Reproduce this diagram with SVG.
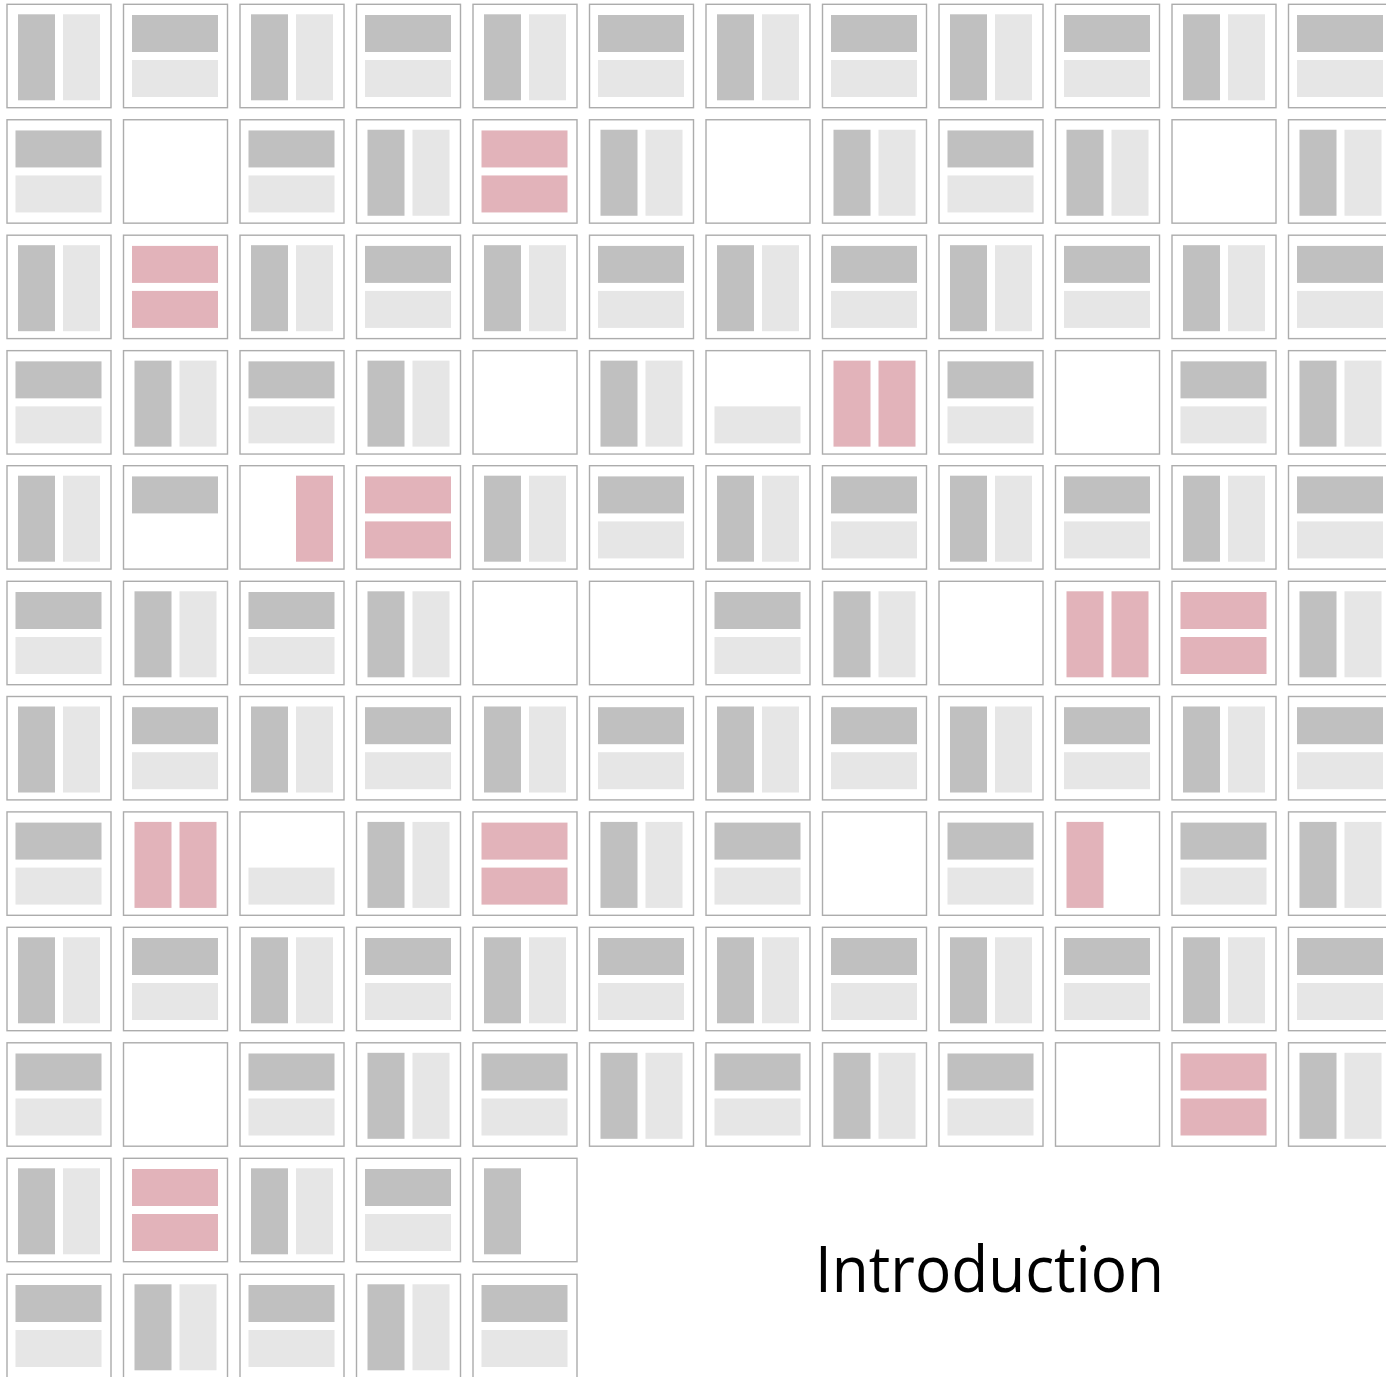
<svg xmlns="http://www.w3.org/2000/svg" xmlns:xlink="http://www.w3.org/1999/xlink" width="1386" height="1377" viewBox="0 0 1386 1377">
<style>
.f{fill:#fff;stroke:#acacac;stroke-width:1.4}
.d{fill:#c0c0c0}
.l{fill:#e6e6e6}
.p{fill:#e2b3ba}
.t{font-family:"Segoe UI","Open Sans","Noto Sans",sans-serif;font-size:64px;fill:#000}
</style>
<defs>
<rect id="fr" class="f" x="0" y="0" width="104" height="103.4"/>
<g id="V"><rect class="d" x="11" y="10" width="37" height="86"/><rect class="l" x="56" y="10" width="37" height="86"/></g>
<g id="H"><rect class="d" x="8.5" y="10.7" width="86" height="37"/><rect class="l" x="8.5" y="55.7" width="86" height="37"/></g>
<g id="PV"><rect class="p" x="11" y="10" width="37" height="86"/><rect class="p" x="56" y="10" width="37" height="86"/></g>
<g id="PH"><rect class="p" x="8.5" y="10.7" width="86" height="37"/><rect class="p" x="8.5" y="55.7" width="86" height="37"/></g>
<rect id="Hd" class="d" x="8.5" y="10.7" width="86" height="37"/>
<rect id="Hl" class="l" x="8.5" y="55.7" width="86" height="37"/>
<rect id="Vd" class="d" x="11" y="10" width="37" height="86"/>
<rect id="Vpl" class="p" x="56" y="10" width="37" height="86"/>
<rect id="Vpd" class="p" x="11" y="10" width="37" height="86"/>
</defs>
<rect width="1386" height="1377" fill="#fff"/>
<g id="row0">
<g id="t0-0" transform="translate(7,4.3)"><use href="#fr"/><use href="#V"/></g>
<g id="t0-1" transform="translate(123.5,4.3)"><use href="#fr"/><use href="#H"/></g>
<g id="t0-2" transform="translate(240,4.3)"><use href="#fr"/><use href="#V"/></g>
<g id="t0-3" transform="translate(356.5,4.3)"><use href="#fr"/><use href="#H"/></g>
<g id="t0-4" transform="translate(473,4.3)"><use href="#fr"/><use href="#V"/></g>
<g id="t0-5" transform="translate(589.5,4.3)"><use href="#fr"/><use href="#H"/></g>
<g id="t0-6" transform="translate(706,4.3)"><use href="#fr"/><use href="#V"/></g>
<g id="t0-7" transform="translate(822.5,4.3)"><use href="#fr"/><use href="#H"/></g>
<g id="t0-8" transform="translate(939,4.3)"><use href="#fr"/><use href="#V"/></g>
<g id="t0-9" transform="translate(1055.5,4.3)"><use href="#fr"/><use href="#H"/></g>
<g id="t0-10" transform="translate(1172,4.3)"><use href="#fr"/><use href="#V"/></g>
<g id="t0-11" transform="translate(1288.5,4.3)"><use href="#fr"/><use href="#H"/></g>
</g>
<g id="row1">
<g id="t1-0" transform="translate(7,119.75)"><use href="#fr"/><use href="#H"/></g>
<g id="t1-1" transform="translate(123.5,119.75)"><use href="#fr"/></g>
<g id="t1-2" transform="translate(240,119.75)"><use href="#fr"/><use href="#H"/></g>
<g id="t1-3" transform="translate(356.5,119.75)"><use href="#fr"/><use href="#V"/></g>
<g id="t1-4" transform="translate(473,119.75)"><use href="#fr"/><use href="#PH"/></g>
<g id="t1-5" transform="translate(589.5,119.75)"><use href="#fr"/><use href="#V"/></g>
<g id="t1-6" transform="translate(706,119.75)"><use href="#fr"/></g>
<g id="t1-7" transform="translate(822.5,119.75)"><use href="#fr"/><use href="#V"/></g>
<g id="t1-8" transform="translate(939,119.75)"><use href="#fr"/><use href="#H"/></g>
<g id="t1-9" transform="translate(1055.5,119.75)"><use href="#fr"/><use href="#V"/></g>
<g id="t1-10" transform="translate(1172,119.75)"><use href="#fr"/></g>
<g id="t1-11" transform="translate(1288.5,119.75)"><use href="#fr"/><use href="#V"/></g>
</g>
<g id="row2">
<g id="t2-0" transform="translate(7,235.2)"><use href="#fr"/><use href="#V"/></g>
<g id="t2-1" transform="translate(123.5,235.2)"><use href="#fr"/><use href="#PH"/></g>
<g id="t2-2" transform="translate(240,235.2)"><use href="#fr"/><use href="#V"/></g>
<g id="t2-3" transform="translate(356.5,235.2)"><use href="#fr"/><use href="#H"/></g>
<g id="t2-4" transform="translate(473,235.2)"><use href="#fr"/><use href="#V"/></g>
<g id="t2-5" transform="translate(589.5,235.2)"><use href="#fr"/><use href="#H"/></g>
<g id="t2-6" transform="translate(706,235.2)"><use href="#fr"/><use href="#V"/></g>
<g id="t2-7" transform="translate(822.5,235.2)"><use href="#fr"/><use href="#H"/></g>
<g id="t2-8" transform="translate(939,235.2)"><use href="#fr"/><use href="#V"/></g>
<g id="t2-9" transform="translate(1055.5,235.2)"><use href="#fr"/><use href="#H"/></g>
<g id="t2-10" transform="translate(1172,235.2)"><use href="#fr"/><use href="#V"/></g>
<g id="t2-11" transform="translate(1288.5,235.2)"><use href="#fr"/><use href="#H"/></g>
</g>
<g id="row3">
<g id="t3-0" transform="translate(7,350.65)"><use href="#fr"/><use href="#H"/></g>
<g id="t3-1" transform="translate(123.5,350.65)"><use href="#fr"/><use href="#V"/></g>
<g id="t3-2" transform="translate(240,350.65)"><use href="#fr"/><use href="#H"/></g>
<g id="t3-3" transform="translate(356.5,350.65)"><use href="#fr"/><use href="#V"/></g>
<g id="t3-4" transform="translate(473,350.65)"><use href="#fr"/></g>
<g id="t3-5" transform="translate(589.5,350.65)"><use href="#fr"/><use href="#V"/></g>
<g id="t3-6" transform="translate(706,350.65)"><use href="#fr"/><use href="#Hl"/></g>
<g id="t3-7" transform="translate(822.5,350.65)"><use href="#fr"/><use href="#PV"/></g>
<g id="t3-8" transform="translate(939,350.65)"><use href="#fr"/><use href="#H"/></g>
<g id="t3-9" transform="translate(1055.5,350.65)"><use href="#fr"/></g>
<g id="t3-10" transform="translate(1172,350.65)"><use href="#fr"/><use href="#H"/></g>
<g id="t3-11" transform="translate(1288.5,350.65)"><use href="#fr"/><use href="#V"/></g>
</g>
<g id="row4">
<g id="t4-0" transform="translate(7,465.7)"><use href="#fr"/><use href="#V"/></g>
<g id="t4-1" transform="translate(123.5,465.7)"><use href="#fr"/><use href="#Hd"/></g>
<g id="t4-2" transform="translate(240,465.7)"><use href="#fr"/><use href="#Vpl"/></g>
<g id="t4-3" transform="translate(356.5,465.7)"><use href="#fr"/><use href="#PH"/></g>
<g id="t4-4" transform="translate(473,465.7)"><use href="#fr"/><use href="#V"/></g>
<g id="t4-5" transform="translate(589.5,465.7)"><use href="#fr"/><use href="#H"/></g>
<g id="t4-6" transform="translate(706,465.7)"><use href="#fr"/><use href="#V"/></g>
<g id="t4-7" transform="translate(822.5,465.7)"><use href="#fr"/><use href="#H"/></g>
<g id="t4-8" transform="translate(939,465.7)"><use href="#fr"/><use href="#V"/></g>
<g id="t4-9" transform="translate(1055.5,465.7)"><use href="#fr"/><use href="#H"/></g>
<g id="t4-10" transform="translate(1172,465.7)"><use href="#fr"/><use href="#V"/></g>
<g id="t4-11" transform="translate(1288.5,465.7)"><use href="#fr"/><use href="#H"/></g>
</g>
<g id="row5">
<g id="t5-0" transform="translate(7,581.3)"><use href="#fr"/><use href="#H"/></g>
<g id="t5-1" transform="translate(123.5,581.3)"><use href="#fr"/><use href="#V"/></g>
<g id="t5-2" transform="translate(240,581.3)"><use href="#fr"/><use href="#H"/></g>
<g id="t5-3" transform="translate(356.5,581.3)"><use href="#fr"/><use href="#V"/></g>
<g id="t5-4" transform="translate(473,581.3)"><use href="#fr"/></g>
<g id="t5-5" transform="translate(589.5,581.3)"><use href="#fr"/></g>
<g id="t5-6" transform="translate(706,581.3)"><use href="#fr"/><use href="#H"/></g>
<g id="t5-7" transform="translate(822.5,581.3)"><use href="#fr"/><use href="#V"/></g>
<g id="t5-8" transform="translate(939,581.3)"><use href="#fr"/></g>
<g id="t5-9" transform="translate(1055.5,581.3)"><use href="#fr"/><use href="#PV"/></g>
<g id="t5-10" transform="translate(1172,581.3)"><use href="#fr"/><use href="#PH"/></g>
<g id="t5-11" transform="translate(1288.5,581.3)"><use href="#fr"/><use href="#V"/></g>
</g>
<g id="row6">
<g id="t6-0" transform="translate(7,696.5)"><use href="#fr"/><use href="#V"/></g>
<g id="t6-1" transform="translate(123.5,696.5)"><use href="#fr"/><use href="#H"/></g>
<g id="t6-2" transform="translate(240,696.5)"><use href="#fr"/><use href="#V"/></g>
<g id="t6-3" transform="translate(356.5,696.5)"><use href="#fr"/><use href="#H"/></g>
<g id="t6-4" transform="translate(473,696.5)"><use href="#fr"/><use href="#V"/></g>
<g id="t6-5" transform="translate(589.5,696.5)"><use href="#fr"/><use href="#H"/></g>
<g id="t6-6" transform="translate(706,696.5)"><use href="#fr"/><use href="#V"/></g>
<g id="t6-7" transform="translate(822.5,696.5)"><use href="#fr"/><use href="#H"/></g>
<g id="t6-8" transform="translate(939,696.5)"><use href="#fr"/><use href="#V"/></g>
<g id="t6-9" transform="translate(1055.5,696.5)"><use href="#fr"/><use href="#H"/></g>
<g id="t6-10" transform="translate(1172,696.5)"><use href="#fr"/><use href="#V"/></g>
<g id="t6-11" transform="translate(1288.5,696.5)"><use href="#fr"/><use href="#H"/></g>
</g>
<g id="row7">
<g id="t7-0" transform="translate(7,811.9)"><use href="#fr"/><use href="#H"/></g>
<g id="t7-1" transform="translate(123.5,811.9)"><use href="#fr"/><use href="#PV"/></g>
<g id="t7-2" transform="translate(240,811.9)"><use href="#fr"/><use href="#Hl"/></g>
<g id="t7-3" transform="translate(356.5,811.9)"><use href="#fr"/><use href="#V"/></g>
<g id="t7-4" transform="translate(473,811.9)"><use href="#fr"/><use href="#PH"/></g>
<g id="t7-5" transform="translate(589.5,811.9)"><use href="#fr"/><use href="#V"/></g>
<g id="t7-6" transform="translate(706,811.9)"><use href="#fr"/><use href="#H"/></g>
<g id="t7-7" transform="translate(822.5,811.9)"><use href="#fr"/></g>
<g id="t7-8" transform="translate(939,811.9)"><use href="#fr"/><use href="#H"/></g>
<g id="t7-9" transform="translate(1055.5,811.9)"><use href="#fr"/><use href="#Vpd"/></g>
<g id="t7-10" transform="translate(1172,811.9)"><use href="#fr"/><use href="#H"/></g>
<g id="t7-11" transform="translate(1288.5,811.9)"><use href="#fr"/><use href="#V"/></g>
</g>
<g id="row8">
<g id="t8-0" transform="translate(7,927.3)"><use href="#fr"/><use href="#V"/></g>
<g id="t8-1" transform="translate(123.5,927.3)"><use href="#fr"/><use href="#H"/></g>
<g id="t8-2" transform="translate(240,927.3)"><use href="#fr"/><use href="#V"/></g>
<g id="t8-3" transform="translate(356.5,927.3)"><use href="#fr"/><use href="#H"/></g>
<g id="t8-4" transform="translate(473,927.3)"><use href="#fr"/><use href="#V"/></g>
<g id="t8-5" transform="translate(589.5,927.3)"><use href="#fr"/><use href="#H"/></g>
<g id="t8-6" transform="translate(706,927.3)"><use href="#fr"/><use href="#V"/></g>
<g id="t8-7" transform="translate(822.5,927.3)"><use href="#fr"/><use href="#H"/></g>
<g id="t8-8" transform="translate(939,927.3)"><use href="#fr"/><use href="#V"/></g>
<g id="t8-9" transform="translate(1055.5,927.3)"><use href="#fr"/><use href="#H"/></g>
<g id="t8-10" transform="translate(1172,927.3)"><use href="#fr"/><use href="#V"/></g>
<g id="t8-11" transform="translate(1288.5,927.3)"><use href="#fr"/><use href="#H"/></g>
</g>
<g id="row9">
<g id="t9-0" transform="translate(7,1042.8)"><use href="#fr"/><use href="#H"/></g>
<g id="t9-1" transform="translate(123.5,1042.8)"><use href="#fr"/></g>
<g id="t9-2" transform="translate(240,1042.8)"><use href="#fr"/><use href="#H"/></g>
<g id="t9-3" transform="translate(356.5,1042.8)"><use href="#fr"/><use href="#V"/></g>
<g id="t9-4" transform="translate(473,1042.8)"><use href="#fr"/><use href="#H"/></g>
<g id="t9-5" transform="translate(589.5,1042.8)"><use href="#fr"/><use href="#V"/></g>
<g id="t9-6" transform="translate(706,1042.8)"><use href="#fr"/><use href="#H"/></g>
<g id="t9-7" transform="translate(822.5,1042.8)"><use href="#fr"/><use href="#V"/></g>
<g id="t9-8" transform="translate(939,1042.8)"><use href="#fr"/><use href="#H"/></g>
<g id="t9-9" transform="translate(1055.5,1042.8)"><use href="#fr"/></g>
<g id="t9-10" transform="translate(1172,1042.8)"><use href="#fr"/><use href="#PH"/></g>
<g id="t9-11" transform="translate(1288.5,1042.8)"><use href="#fr"/><use href="#V"/></g>
</g>
<g id="row10">
<g id="t10-0" transform="translate(7,1158.3)"><use href="#fr"/><use href="#V"/></g>
<g id="t10-1" transform="translate(123.5,1158.3)"><use href="#fr"/><use href="#PH"/></g>
<g id="t10-2" transform="translate(240,1158.3)"><use href="#fr"/><use href="#V"/></g>
<g id="t10-3" transform="translate(356.5,1158.3)"><use href="#fr"/><use href="#H"/></g>
<g id="t10-4" transform="translate(473,1158.3)"><use href="#fr"/><use href="#Vd"/></g>
</g>
<g id="row11">
<g id="t11-0" transform="translate(7,1274.3)"><use href="#fr"/><use href="#H"/></g>
<g id="t11-1" transform="translate(123.5,1274.3)"><use href="#fr"/><use href="#V"/></g>
<g id="t11-2" transform="translate(240,1274.3)"><use href="#fr"/><use href="#H"/></g>
<g id="t11-3" transform="translate(356.5,1274.3)"><use href="#fr"/><use href="#V"/></g>
<g id="t11-4" transform="translate(473,1274.3)"><use href="#fr"/><use href="#H"/></g>
</g>
<g id="connectors"/>
<g id="title"><text class="t" x="815" y="1292" textLength="349" lengthAdjust="spacingAndGlyphs">Introduction</text></g>
</svg>
